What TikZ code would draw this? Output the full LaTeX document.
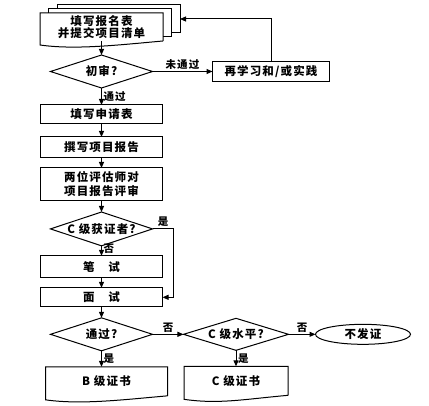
\documentclass[tikz,border=0pt]{standalone}
\usepackage{fontspec}
\setmainfont{Noto Sans CJK SC}[LetterSpace=10]
\usetikzlibrary{arrows.meta,positioning,shapes.geometric}

\newcommand\docwave[1]{%
  \draw[line] (#1.south east) -- (#1.north east) -- (#1.north west)
    -- ([yshift=-4pt]#1.south west)
    .. controls +(35pt,-5pt) and +(-45pt,-4pt) .. (#1.south east);}

\begin{document}
\begin{tikzpicture}[
x=1pt, y=1pt,
node distance = 10pt and 30pt,
every node/.style = {outer sep=0pt},
line/.style = {line width=1pt},
box/.style = {draw, line width=1pt,
              minimum width=122pt, minimum height=20pt,
              inner xsep=2pt, inner ysep=0pt, align=center,
              font=\bfseries\fontsize{11.5}{14}\selectfont},
stackbox/.style = {box, fill=white, minimum width=123pt, minimum height=28pt},
doc/.style = {box, draw=none, fill=white, minimum height=29pt},
decision/.style = {diamond, draw, line width=1pt, aspect=3,
              minimum width=102pt, minimum height=33pt, inner sep=0pt,
              font=\bfseries\fontsize{11.5}{14}\selectfont},
terminal/.style = {ellipse, draw, line width=1pt,
              minimum width=95pt, minimum height=20pt, inner sep=0pt,
              font=\bfseries\fontsize{11.5}{14}\selectfont},
arrow/.style = {line, -{Triangle[length=6pt,width=5pt]}},
lbl/.style = {font=\bfseries\fontsize{10.5}{12}\selectfont, inner sep=2pt}
                ]
\useasboundingbox (0,0) rectangle (429,405);

%% stacked forms
\node (form3) [stackbox] at (118.5,386) {};
\node (form2) [stackbox] at (109.5,382) {};
\node (form) [doc, minimum width=123pt, minimum height=28pt,
      font=\bfseries\fontsize{11.5}{12.5}\selectfont] at (101.5,378)
      {填写报名表\\并提交项目清单};
\docwave{form}

%% main column
\node (check) [decision, below=14pt of form] {初审?};
\node (apply) [box, minimum height=19pt, below=17pt of check] {填写申请表};
\node (report) [box, minimum height=21pt, below=13pt of apply] {撰写项目报告};
\node (review) [box, minimum height=33pt, below=of report]
      {两位评估师对\\项目报告评审};
\node (holder) [decision, below=11pt of review] {C 级获证者?};
\node (written) [box, minimum height=22pt, below=of holder] {笔\hspace{1.2em}试};
\node (interview) [box, minimum height=19pt, below=of written] {面\hspace{1.2em}试};
\node (pass) [decision, below=11pt of interview] {通过?};
\node (certB) [doc, below=16pt of pass, xshift=5pt] {B 级证书};
\docwave{certB}

%% right side
\node (relearn) [box, minimum width=117pt, right=60pt of check] {再学习和/或实践};
\node (levelC) [decision, minimum width=105pt, minimum height=32pt,
      right=31pt of pass] {C 级水平?};
\node (nocert) [terminal, right=27pt of levelC] {不发证};
\node (certC) [doc, minimum width=104pt, below=16pt of levelC] {C 级证书};
\docwave{certC}

%% connectors
\draw[arrow] (form) -- (check);
\draw[arrow] (check) -- node[lbl, above] {未通过} (relearn);
\draw[arrow] (relearn.north) |- (form3.east);
\draw[arrow] (check) -- node[lbl, right] {通过} (apply);
\draw[arrow] (apply) -- (report);
\draw[arrow] (report) -- (review);
\draw[arrow] (review) -- (holder);
\draw[arrow] (holder) -- node[lbl, right, pos=0.3] {否} (written);
\draw[arrow] (holder.east) -- node[lbl, above] {是} ++(21pt,0) |- (interview.east);
\draw[arrow] (written) -- (interview);
\draw[arrow] (interview) -- (pass);
\draw[arrow] (pass.south) -- node[lbl, right] {是} (pass.south |- certB.north);
\draw[arrow] (pass) -- node[lbl, above] {否} (levelC);
\draw[arrow] (levelC) -- node[lbl, above] {否} (nocert);
\draw[arrow] (levelC) -- node[lbl, right] {是} (certC);
%%
\end{tikzpicture}
\end{document}
